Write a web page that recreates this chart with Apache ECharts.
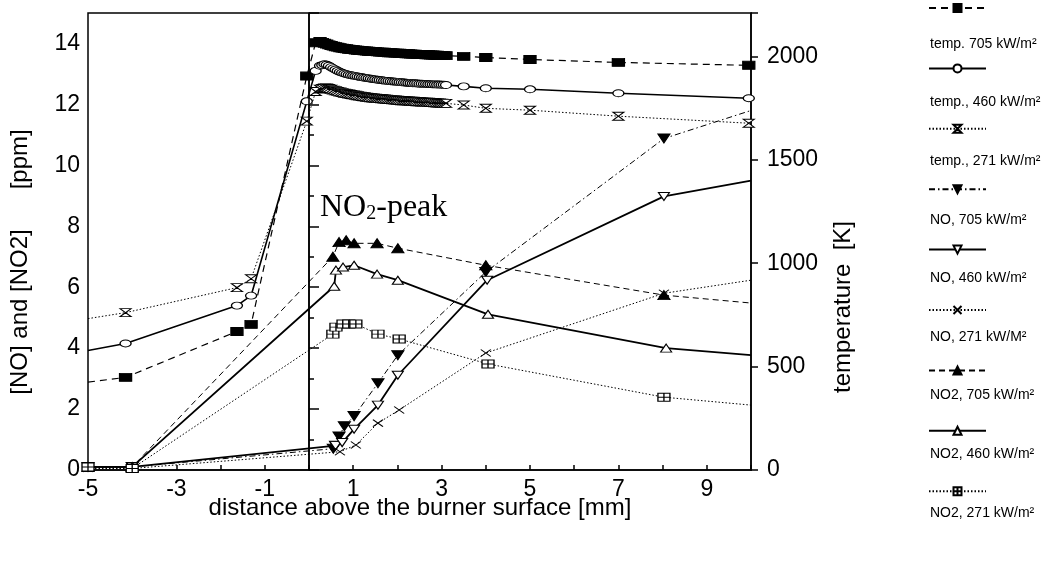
<!DOCTYPE html>
<html><head><meta charset="utf-8">
<script src="https://cdn.jsdelivr.net/npm/echarts@6/dist/echarts.min.js"></script>
<style>html,body{margin:0;padding:0;background:#fff}#c{width:1064px;height:569px}</style>
</head><body><div id="c"></div>
<script>
// ---- data (x = distance above burner surface [mm]) ----
const seriesNames = [
  'temp. 705 kW/m²', 'temp., 460 kW/m²', 'temp., 271 kW/m²',
  'NO, 705 kW/m²', 'NO, 460 kW/m²', 'NO, 271 kW/M²',
  'NO2, 705 kW/m²', 'NO2, 460 kW/m²', 'NO2, 271 kW/m²'
];
const xTickLabels = ['-5', '-3', '-1', '1', '3', '5', '7', '9'];
const ppmTickLabels = ['0', '2', '4', '6', '8', '10', '12', '14'];
const kTickLabels = ['0', '500', '1000', '1500', '2000'];

// temperatures [K]
const temp705 = [[-5, 425], [-4.15, 448], [-1.63, 670], [-1.31, 704], [-0.05, 1905], [0.15, 2066], [0.25, 2072],
  [0.30, 2068], [0.35, 2064], [0.40, 2060], [0.45, 2056], [0.50, 2053], [0.55, 2050], [0.60, 2047], [0.65, 2045],
  [0.70, 2042], [0.75, 2040], [0.80, 2038], [0.85, 2037], [0.90, 2035], [0.95, 2034], [1.00, 2033], [1.05, 2031],
  [1.10, 2030], [1.15, 2029], [1.20, 2028], [1.25, 2027], [1.30, 2026], [1.35, 2025], [1.40, 2024], [1.45, 2024],
  [1.50, 2023], [1.55, 2022], [1.60, 2021], [1.65, 2021], [1.70, 2020], [1.75, 2019], [1.80, 2018], [1.85, 2018],
  [1.90, 2017], [1.95, 2016], [2.00, 2016], [2.05, 2015], [2.10, 2014], [2.15, 2014], [2.20, 2013], [2.25, 2013],
  [2.30, 2012], [2.35, 2011], [2.40, 2011], [2.45, 2010], [2.50, 2010], [2.55, 2009], [2.60, 2009], [2.65, 2008],
  [2.70, 2008], [2.75, 2007], [2.80, 2007], [2.85, 2006], [2.90, 2006], [2.95, 2005], [3.00, 2005], [3.05, 2004],
  [3.10, 2004], [3.5, 2000], [4.0, 1995], [5.0, 1985], [7.0, 1971], [9.95, 1957]];
const temp460 = [[-5, 578], [-4.15, 612], [-1.63, 795], [-1.31, 843], [-0.05, 1783], [0.15, 1930], [0.25, 1955],
  [0.30, 1958], [0.35, 1962], [0.40, 1960], [0.45, 1955], [0.50, 1948], [0.55, 1942], [0.60, 1936], [0.65, 1930],
  [0.70, 1925], [0.75, 1921], [0.80, 1917], [0.85, 1914], [0.90, 1911], [0.95, 1909], [1.00, 1907], [1.05, 1905],
  [1.10, 1903], [1.15, 1901], [1.20, 1899], [1.25, 1897], [1.30, 1896], [1.35, 1894], [1.40, 1892], [1.45, 1890],
  [1.50, 1889], [1.55, 1887], [1.60, 1886], [1.65, 1885], [1.70, 1883], [1.75, 1882], [1.80, 1881], [1.85, 1880],
  [1.90, 1879], [1.95, 1878], [2.00, 1877], [2.05, 1876], [2.10, 1875], [2.15, 1874], [2.20, 1873], [2.25, 1872],
  [2.30, 1871], [2.35, 1870], [2.40, 1870], [2.45, 1869], [2.50, 1868], [2.55, 1868], [2.60, 1867], [2.65, 1867],
  [2.70, 1866], [2.75, 1866], [2.80, 1865], [2.85, 1865], [2.90, 1864], [2.95, 1864], [3.00, 1863], [3.05, 1863],
  [3.10, 1862], [3.5, 1855], [4.0, 1846], [5.0, 1841], [7.0, 1822], [9.95, 1798]];
const temp271 = [[-5, 732], [-4.15, 761], [-1.63, 882], [-1.31, 925], [-0.05, 1687], [0.15, 1830], [0.25, 1842],
  [0.30, 1845], [0.35, 1848], [0.40, 1848], [0.45, 1845], [0.50, 1841], [0.55, 1837], [0.60, 1834], [0.65, 1831],
  [0.70, 1828], [0.75, 1825], [0.80, 1822], [0.85, 1820], [0.90, 1818], [0.95, 1816], [1.00, 1814], [1.05, 1812],
  [1.10, 1810], [1.15, 1808], [1.20, 1806], [1.25, 1805], [1.30, 1803], [1.35, 1802], [1.40, 1800], [1.45, 1799],
  [1.50, 1798], [1.55, 1797], [1.60, 1796], [1.65, 1795], [1.70, 1794], [1.75, 1793], [1.80, 1792], [1.85, 1791],
  [1.90, 1790], [1.95, 1789], [2.00, 1788], [2.05, 1787], [2.10, 1786], [2.15, 1786], [2.20, 1785], [2.25, 1784],
  [2.30, 1783], [2.35, 1783], [2.40, 1782], [2.45, 1781], [2.50, 1781], [2.55, 1780], [2.60, 1779], [2.65, 1779],
  [2.70, 1778], [2.75, 1777], [2.80, 1777], [2.85, 1776], [2.90, 1775], [2.95, 1775], [3.00, 1774], [3.05, 1773],
  [3.10, 1773], [3.5, 1765], [4.0, 1749], [5.0, 1740], [7.0, 1711], [9.95, 1677]];
// NO [ppm]
const no705 = [[-5, 0.1], [-4, 0.1], [0.55, 0.7], [0.6, 0.8], [0.68, 1.1], [0.8, 1.44], [1.02, 1.77], [1.56, 2.85],
  [2.01, 3.77], [4.0, 6.5], [8.03, 10.88], [10, 11.8]];
const no460 = [[-5, 0.1], [-4, 0.1], [0.6, 0.8], [0.75, 0.9], [1.02, 1.34], [1.56, 2.13], [2.01, 3.11], [4.03, 6.23],
  [8.03, 8.98], [10, 9.5]];
const no271 = [[-5, 0.05], [-4, 0.05], [0.7, 0.6], [1.06, 0.82], [1.56, 1.54], [2.04, 1.97], [4.0, 3.84], [8.03, 5.8],
  [10, 6.23]];
// NO2 [ppm]
const no2_705 = [[-5, 0.1], [-4, 0.1], [0.54, 7.0], [0.68, 7.48], [0.84, 7.54], [1.02, 7.44], [1.54, 7.44], [2.01, 7.28],
  [4.0, 6.72], [8.03, 5.74], [10, 5.48]];
const no2_460 = [[-5, 0.1], [-4, 0.1], [0.57, 6.03], [0.61, 6.56], [0.77, 6.66], [1.02, 6.72], [1.54, 6.43], [2.01, 6.23],
  [4.05, 5.11], [8.08, 4.0], [10, 3.77]];
const no2_271 = [[-5, 0.1], [-4, 0.05], [0.54, 4.46], [0.61, 4.69], [0.77, 4.79], [0.9, 4.79], [1.06, 4.79], [1.56, 4.46],
  [2.04, 4.3], [4.05, 3.48], [8.03, 2.39], [10, 2.13]];

const seriesData = [temp705, temp460, temp271, no705, no460, no271, no2_705, no2_460, no2_271];

// ---- styles ----
const SYM = {
  hourglass: 'path://M0,0L10,0L5,5L10,10L0,10L5,5Z',
  tdown: 'path://M0,0L10,0L5,8Z',
  cross: 'path://M0,0L10,8M10,0L0,8',
  boxcross: 'path://M0,0H12V8H0ZM6,0V8M0,4H12'
};
const styles = [
  { axis: 1, symbol: 'rect', size: [12, 8], fill: '#000', type: [7, 5], width: 1.2, hideFirst: true },
  { axis: 1, symbol: 'circle', size: [11, 7], fill: '#fff', type: 'solid', width: 1.6, hideFirst: true },
  { axis: 1, symbol: SYM.hourglass, size: [11, 8], fill: '#fff', type: [1.5, 2], width: 1, hideFirst: true },
  { axis: 0, symbol: SYM.tdown, size: [12, 9], fill: '#000', type: [6, 3, 1.5, 3], width: 1, hideLast: true },
  { axis: 0, symbol: SYM.tdown, size: [11, 8], fill: '#fff', type: 'solid', width: 1.8, hideLast: true },
  { axis: 0, symbol: SYM.cross, size: [10, 7], fill: '#000', type: [1.5, 2], width: 1, hideLast: true },
  { axis: 0, symbol: 'triangle', size: [12, 9], fill: '#000', type: [6, 4], width: 1, hideLast: true },
  { axis: 0, symbol: 'triangle', size: [11, 8], fill: '#fff', type: 'solid', width: 1.8, hideLast: true },
  { axis: 0, symbol: SYM.boxcross, size: [12, 8], fill: '#fff', type: [1.5, 2], width: 1, hideLast: true }
];

const FONT = 'Liberation Sans';
const series = seriesData.map((arr, k) => {
  const s = styles[k];
  const data = arr.map((p, i) => {
    if ((s.hideFirst && i === 0) || (s.hideLast && i === arr.length - 1)) return { value: p, symbol: 'none' };
    return p;
  });
  const out = {
    name: seriesNames[k], type: 'line', yAxisIndex: s.axis, data,
    symbol: s.symbol, symbolSize: s.size, showAllSymbol: true,
    itemStyle: { color: s.fill, borderColor: '#000', borderWidth: 1.1 },
    lineStyle: { color: '#000', width: s.width, type: s.type },
    emphasis: { disabled: true }, animation: false, z: 3
  };
  if (k === 0) {
    out.markLine = {
      silent: true, symbol: 'none', label: { show: false },
      lineStyle: { color: '#000', width: 1.6, type: 'solid' },
      data: [{ xAxis: 0 }]
    };
  }
  return out;
});

const chart = echarts.init(document.getElementById('c'), null, { renderer: 'canvas' });
const labelStyle = { fontSize: 23, color: '#000', fontFamily: FONT };
const titleFont = '24px "Liberation Sans"';
chart.setOption({
  animation: false,
  backgroundColor: '#fff',
  grid: { left: 88, right: 313, top: 13, bottom: 99, show: true, borderColor: '#000', borderWidth: 1.5 },
  xAxis: {
    type: 'value', min: -5, max: 10, interval: 1,
    axisLine: { lineStyle: { color: '#000', width: 1.5 } },
    axisTick: { inside: true, length: 5, lineStyle: { color: '#000', width: 1.5 } },
    axisLabel: Object.assign({ margin: 8, formatter: v => xTickLabels.includes(String(v)) ? String(v) : '' }, labelStyle),
    splitLine: { show: false }
  },
  yAxis: [
    {
      type: 'value', min: 0, max: 15, interval: 2, position: 'left',
      axisLine: { show: true, lineStyle: { color: '#000', width: 1.5 } },
      axisTick: { inside: true, length: 10, lineStyle: { color: '#000', width: 1.5 } },
      minorTick: { show: true, splitNumber: 2, length: 5, lineStyle: { color: '#000', width: 1.5 } },
      axisLabel: Object.assign({ margin: 8, formatter: v => ppmTickLabels.includes(String(v)) ? String(v) : '' }, labelStyle),
      splitLine: { show: false }
    },
    {
      type: 'value', min: 0, max: 2210, interval: 500, position: 'right',
      axisLine: { show: true, lineStyle: { color: '#000', width: 1.5 } },
      axisTick: { inside: false, length: 7, lineStyle: { color: '#000', width: 1.5 } },
      axisLabel: Object.assign({ margin: 16, formatter: v => kTickLabels.includes(String(v)) ? String(v) : '' }, labelStyle),
      splitLine: { show: false }
    }
  ],
  legend: [
    {
      orient: 'vertical', left: 928, top: 3, padding: 0, itemWidth: 57, itemHeight: 10, itemGap: 50.4,
      formatter: () => '', textStyle: { fontSize: 1 }, data: seriesNames, selectedMode: false
    },
    {
      orient: 'vertical', left: 925, top: 36, padding: 0, icon: 'none', itemWidth: 0, itemHeight: 16, itemGap: 43.6,
      textStyle: { fontSize: 14, color: '#000', fontFamily: FONT }, data: seriesNames, selectedMode: false
    }
  ],
  graphic: [
    { type: 'text', x: 20, y: 262, rotation: Math.PI / 2,
      style: { text: '[NO] and [NO2]      [ppm]', align: 'center', verticalAlign: 'middle', fill: '#000', font: titleFont } },
    { type: 'text', x: 843, y: 307, rotation: Math.PI / 2,
      style: { text: 'temperature  [K]', align: 'center', verticalAlign: 'middle', fill: '#000', font: titleFont } },
    { type: 'text', x: 420, y: 508,
      style: { text: 'distance above the burner surface [mm]', align: 'center', verticalAlign: 'middle', fill: '#000', font: titleFont } },
    { type: 'text', x: 320, y: 208, z: 10,
      style: { text: '{n|NO}{s|2}{n|-peak}', verticalAlign: 'middle', fill: '#000',
        rich: { n: { fontSize: 32, fontFamily: 'Liberation Serif' },
                s: { fontSize: 20, fontFamily: 'Liberation Serif', verticalAlign: 'bottom', padding: [10, 0, 0, 0] } } } }
  ],
  series
});
</script></body></html>
